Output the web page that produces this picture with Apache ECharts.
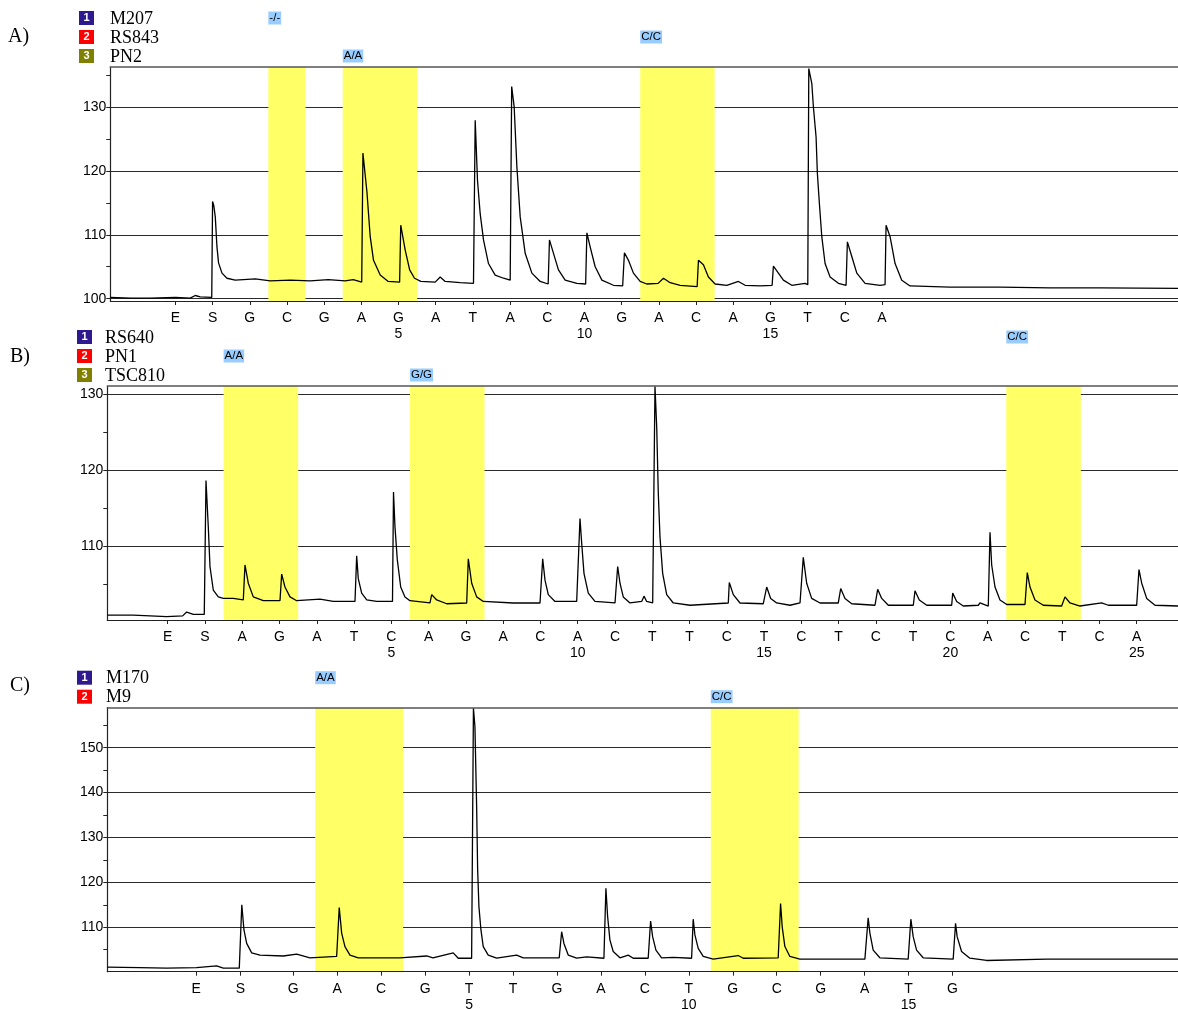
<!DOCTYPE html>
<html><head><meta charset="utf-8">
<script src="https://cdn.jsdelivr.net/npm/echarts@6/dist/echarts.min.js"></script>
<style>html,body{margin:0;padding:0;background:#fff}#c{width:1178px;height:1009px}</style>
</head><body><div id="c"></div>
<script>
// ---------- data ----------
const seqA = ['E','S','G','C','G','A','G','A','T','A','C','A','G','A','C','A','G','T','C','A'];
const posA = [-1,0,1,2,3,4,5,6,7,8,9,10,11,12,13,14,15,16,17,18];
const seqB = ['E','S','A','G','A','T','C','A','G','A','C','A','C','T','T','C','T','C','T','C','T','C','A','C','T','C','A'];
const posB = [-1,0,1,2,3,4,5,6,7,8,9,10,11,12,13,14,15,16,17,18,19,20,21,22,23,24,25];
const seqC = ['E','S','G','A','C','G','T','T','G','A','C','T','G','C','G','A','T','G'];
const posC = [-1.21,-0.2,1,2,3,4,5,6,7,8,9,10,11,12,13,14,15,16];

const assaysA = ['M207','RS843','PN2'];
const assaysB = ['RS640','PN1','TSC810'];
const assaysC = ['M170','M9'];

const bandTextA = ['-/-','A/A','C/C'];
const bandFromA = [1.5,3.5,11.5];
const bandToA   = [2.5,5.5,13.5];
const bandRowA  = [1,3,2];
const bandTextB = ['A/A','G/G','C/C'];
const bandFromB = [0.5,5.5,21.5];
const bandToB   = [2.5,7.5,23.5];
const bandRowB  = [2,3,1];
const bandTextC = ['A/A','C/C'];
const bandFromC = [1.5,10.5];
const bandToC   = [3.5,12.5];
const bandRowC  = [1,2];

const yMajorA = [100,110,120,130];
const yMinorA = [105,115,125,135];
const yMajorB = [110,120,130];
const yMinorB = [105,115,125];
const yMajorC = [110,120,130,140,150];
const yMinorC = [105,115,125,135,145,155];

const traceA = [
[-2.750,100.2],[-2.2,100.1],[-1.675,100.1],[-1.003,100.2],[-0.6,100.1],[-0.465,100.5],[-0.331,100.3],[-0.022,100.2],
[0,115.2],[0.032,114.6],[0.073,112.8],[0.118,108.1],[0.161,105.6],[0.253,104.0],[0.387,103.2],[0.610,102.9],[1.148,103.1],[1.551,102.8],[2.089,102.9],[2.626,102.8],[3.110,103.0],[3.567,102.8],[3.782,103.0],[4.011,102.6],
[4.043,122.8],[4.151,116.7],[4.239,109.7],[4.328,106.0],[4.508,103.7],[4.723,102.7],[5.030,102.6],
[5.060,111.5],[5.180,107.6],[5.300,104.5],[5.430,103.2],[5.600,102.7],[5.987,102.6],[6.121,103.4],[6.255,102.7],[6.659,102.5],[7.016,102.4],
[7.062,127.9],[7.124,118.5],[7.196,113.3],[7.285,109.2],[7.419,105.5],[7.599,103.7],[7.823,103.2],[8.003,102.9],
[8.043,133.2],[8.110,130.0],[8.183,120.6],[8.272,112.8],[8.406,107.1],[8.586,104.0],[8.809,102.7],[9.024,102.3],
[9.059,109.2],[9.167,107.1],[9.301,104.5],[9.481,102.9],[9.796,102.4],[10.032,102.3],
[10.065,110.3],[10.153,108.1],[10.288,105.0],[10.468,102.9],[10.780,102.1],[11.027,102.0],
[11.075,107.2],[11.183,106.0],[11.317,104.0],[11.497,102.7],[11.677,102.3],[11.981,102.4],[12.124,103.2],[12.304,102.5],[12.573,102.1],[13.030,101.9],
[13.065,106.0],[13.199,105.3],[13.333,103.4],[13.513,102.3],[13.828,102.1],[14.140,102.7],[14.320,102.1],[14.723,102.0],[15.046,102.1],
[15.081,105.1],[15.215,104.0],[15.349,102.9],[15.575,102.1],[15.933,102.4],[16.005,102.2],
[16.032,136.0],[16.113,133.7],[16.156,130.0],[16.228,125.3],[16.263,119.6],[16.317,114.9],[16.382,109.7],[16.470,105.5],[16.605,103.4],[16.828,102.4],[17.035,102.1],
[17.070,108.9],[17.188,106.6],[17.323,104.0],[17.546,102.4],[17.949,102.1],[18.083,102.2],
[18.110,111.5],[18.218,109.7],[18.352,105.5],[18.532,102.9],[18.755,102.0],[19.831,101.8],[21.175,101.8],[22.519,101.7],[23.863,101.7],[25.960,101.6]
];

const traceB = [
[-2.621,100.9],[-1.923,100.9],[-1.028,100.7],[-0.6,100.8],[-0.491,101.3],[-0.314,101.0],[-0.019,101.0],
[0.027,118.6],[0.089,112.5],[0.134,107.3],[0.223,104.2],[0.357,103.3],[0.491,103.1],[0.759,103.1],[1.028,102.9],
[1.073,107.5],[1.162,105.1],[1.296,103.3],[1.564,102.8],[2.012,102.8],
[2.058,106.3],[2.146,104.6],[2.281,103.3],[2.460,102.8],[3.086,103.0],[3.442,102.7],[4.025,102.7],
[4.070,108.7],[4.113,105.7],[4.204,103.8],[4.339,102.9],[4.607,102.7],[5.031,102.7],
[5.058,117.1],[5.098,112.5],[5.160,108.2],[5.251,104.6],[5.366,103.3],[5.500,102.8],[6.037,102.5],
[6.083,103.6],[6.217,102.9],[6.485,102.4],[7.022,102.5],
[7.065,108.3],[7.156,105.1],[7.290,103.3],[7.467,102.7],[8.272,102.5],[8.989,102.5],
[9.061,108.3],[9.123,105.5],[9.211,103.6],[9.391,102.7],[9.973,102.7],
[10.062,113.6],[10.107,110.4],[10.169,106.4],[10.284,103.8],[10.464,102.7],[11.001,102.5],
[11.073,107.3],[11.135,105.1],[11.223,103.3],[11.403,102.5],[11.717,102.7],[11.779,103.4],[11.851,102.7],[12.012,102.5],
[12.074,131.0],[12.120,125.7],[12.163,116.9],[12.208,111.2],[12.280,106.4],[12.388,103.6],[12.565,102.5],[13.013,102.2],[14.041,102.5],
[14.068,105.2],[14.175,103.6],[14.355,102.5],[14.980,102.4],
[15.071,104.6],[15.178,103.1],[15.339,102.5],[15.696,102.2],[15.965,102.5],
[16.053,108.5],[16.144,105.1],[16.278,103.1],[16.501,102.5],[16.992,102.5],
[17.057,104.4],[17.172,103.1],[17.352,102.4],[17.977,102.2],
[18.049,104.3],[18.157,103.1],[18.334,102.2],[19.005,102.2],
[19.050,104.1],[19.166,102.9],[19.364,102.2],[20.035,102.2],
[20.062,103.8],[20.169,102.7],[20.346,102.1],[20.749,102.2],[20.794,102.5],[21.017,102.1],
[21.063,111.8],[21.108,107.5],[21.197,104.6],[21.331,102.9],[21.511,102.3],[22.002,102.3],
[22.063,106.5],[22.136,104.6],[22.270,102.9],[22.492,102.2],[22.986,102.1],
[23.075,103.3],[23.209,102.5],[23.477,102.1],[24.059,102.5],[24.237,102.2],[24.998,102.2],
[25.060,106.9],[25.133,105.1],[25.267,103.1],[25.490,102.2],[26.107,102.1]
];

const traceC = [
[-3.230,101.1],[-2.5,101.0],[-1.879,100.9],[-1.2,101.0],[-0.742,101.4],[-0.591,100.9],[-0.227,100.9],[-0.196,100.9],
[-0.170,115.0],[-0.121,109.4],[-0.059,106.4],[0.055,104.3],[0.243,103.8],[0.773,103.6],[1.078,104.0],[1.381,103.2],[1.988,103.5],
[2.047,114.4],[2.102,108.7],[2.177,105.7],[2.291,103.8],[2.480,103.2],[3.428,103.2],[4.036,103.6],[4.179,103.2],[4.641,104.3],[4.754,103.1],[5.059,103.1],
[5.100,158.8],[5.134,154.7],[5.173,136.9],[5.196,122.8],[5.225,114.6],[5.271,109.4],[5.323,105.7],[5.437,103.8],[5.628,103.1],[6.083,103.8],[6.233,103.2],[7.052,103.2],
[7.107,109.0],[7.159,106.4],[7.257,103.8],[7.448,103.1],[7.675,103.4],[8.069,103.1],
[8.114,118.7],[8.153,112.4],[8.205,107.2],[8.280,104.6],[8.433,103.2],[8.622,103.8],[8.735,103.1],[9.076,103.1],
[9.131,111.4],[9.177,107.9],[9.252,104.9],[9.381,103.2],[9.645,103.3],[10.064,103.1],
[10.100,111.8],[10.139,108.3],[10.214,105.3],[10.328,103.5],[10.555,102.9],[11.124,103.7],[11.237,103.1],[12.034,103.2],
[12.088,115.3],[12.125,110.1],[12.186,105.7],[12.300,103.5],[12.527,102.9],[14.006,102.9],
[14.081,112.1],[14.120,108.7],[14.195,104.9],[14.347,103.2],[14.991,102.9],
[15.052,111.8],[15.105,107.9],[15.182,104.9],[15.332,103.2],[16.015,102.9],
[16.069,110.9],[16.105,107.9],[16.206,104.6],[16.394,103.1],[16.774,102.6],[18.139,102.9],[19.654,102.9],[21.130,102.9]
];

const boxColors = ['#2e1a8e','#ff0000','#7f7f00'];
const panelLetters = ['A)','B)','C)'];

// ---------- layout ----------
const panels = [
  {seq:seqA,pos:posA,trace:traceA,assays:assaysA,bt:bandTextA,bf:bandFromA,bto:bandToA,br:bandRowA,
   maj:yMajorA,min:yMinorA,x:[-2.75,25.96],y:[99.64,136.25],
   grid:{left:110.3,top:67,width:1067.7,height:234},boxX:79,labX:110,letX:8,letY:37},
  {seq:seqB,pos:posB,trace:traceB,assays:assaysB,bt:bandTextB,bf:bandFromB,bto:bandToB,br:bandRowB,
   maj:yMajorB,min:yMinorB,x:[-2.621,26.107],y:[100.26,131.05],
   grid:{left:107.3,top:386,width:1070.7,height:234},boxX:77,labX:105,letX:10,letY:357},
  {seq:seqC,pos:posC,trace:traceC,assays:assaysC,bt:bandTextC,bf:bandFromC,bto:bandToC,br:bandRowC,
   maj:yMajorC,min:yMinorC,x:[-3.23,21.13],y:[100.1,158.9],
   grid:{left:107.3,top:707.7,width:1070.7,height:264},boxX:77,labX:106,letX:10,letY:686}
];

const sans = '"Liberation Sans", Arial, sans-serif';
const serif = '"Liberation Serif", "Times New Roman", serif';

const grids=[], xAxes=[], yAxes=[], series=[];
panels.forEach((p,k)=>{
  grids.push(Object.assign({outerBoundsMode:'none',containLabel:false}, p.grid));
  xAxes.push({
    gridIndex:k, type:'value', min:p.x[0], max:p.x[1], position:'bottom', z:10,
    axisLine:{show:true,onZero:false,lineStyle:{color:'#222',width:1.2}},
    axisTick:{show:true,customValues:p.pos,length:4,lineStyle:{color:'#222'}},
    axisLabel:{customValues:p.pos,fontSize:14,fontFamily:sans,color:'#000',margin:9,lineHeight:16,
      formatter:(v)=>{
        let idx=-1; for(let i=0;i<p.pos.length;i++){ if(Math.abs(p.pos[i]-v)<1e-6){idx=i;break;} }
        if(idx<0) return '';
        const n=idx-1;
        return p.seq[idx] + ((idx>=2 && n%5===0) ? '\n'+n : '');
      }},
    splitLine:{show:false}
  });
  yAxes.push({
    gridIndex:k, type:'value', min:p.y[0], max:p.y[1], position:'left',
    axisLine:{show:true,onZero:false,lineStyle:{color:'#222',width:1.2}},
    axisTick:{show:true,customValues:p.maj,length:4,lineStyle:{color:'#222'}},
    axisLabel:{customValues:p.maj,fontSize:14,fontFamily:sans,color:'#000',margin:4},
    splitLine:{show:true,lineStyle:{color:'#2a2a2a',width:1.2}}
  });
  series.push({
    type:'line', xAxisIndex:k, yAxisIndex:k, data:p.trace, showSymbol:false, symbol:'none',
    lineStyle:{color:'#000',width:1.3}, animation:false, silent:true,
    markArea:{silent:true, itemStyle:{color:'#ffff66'},
      data:p.bf.map((f,i)=>[{xAxis:f},{xAxis:p.bto[i]}])}
  });
});
// minor tick axes and top border axes
panels.forEach((p,k)=>{
  yAxes.push({
    gridIndex:k, type:'value', min:p.y[0], max:p.y[1], position:'left', offset:0,
    axisLine:{show:false,onZero:false},
    axisTick:{show:true,customValues:p.min,length:4,lineStyle:{color:'#222'}},
    axisLabel:{show:false}, splitLine:{show:false}
  });
  xAxes.push({
    gridIndex:k, type:'value', min:0, max:1, position:'top', z:10,
    axisLine:{show:true,onZero:false,lineStyle:{color:'#555',width:1.5}},
    axisTick:{show:false}, axisLabel:{show:false}, splitLine:{show:false}
  });
});

const chart = echarts.init(document.getElementById('c'), null, {renderer:'canvas'});
chart.setOption({animation:false, backgroundColor:'#fff', grid:grids, xAxis:xAxes, yAxis:yAxes, series:series});

// texts: panel letters, assay legend, genotype labels
const g=[];
panels.forEach((p,k)=>{
  const n=p.assays.length;
  const rowY = r => p.grid.top - 11 - 19*(n-r);
  g.push({type:'text', x:p.letX, y:p.letY, style:{text:panelLetters[k], font:'20px '+serif, fill:'#000', verticalAlign:'middle'}});
  p.assays.forEach((a,i)=>{
    const cy=rowY(i+1);
    g.push({type:'rect', shape:{x:p.boxX, y:cy-7, width:15, height:14}, style:{fill:boxColors[i]}});
    g.push({type:'text', x:p.boxX+7.5, y:cy, style:{text:String(i+1), font:'bold 11px '+sans, fill:'#fff', align:'center', verticalAlign:'middle'}});
    g.push({type:'text', x:p.labX, y:cy+1, style:{text:a, font:'18px '+serif, fill:'#000', verticalAlign:'middle'}});
  });
  p.bt.forEach((t,i)=>{
    const px = chart.convertToPixel({xAxisIndex:k}, p.bf[i]);
    g.push({type:'text', x:px, y:rowY(p.br[i]), z:20, style:{text:t, font:'11.5px '+sans, fill:'#000', backgroundColor:'#99ccff', padding:[1,1,0,1], align:'left', verticalAlign:'middle'}});
  });
});
chart.setOption({graphic:g});
</script>
</body></html>
